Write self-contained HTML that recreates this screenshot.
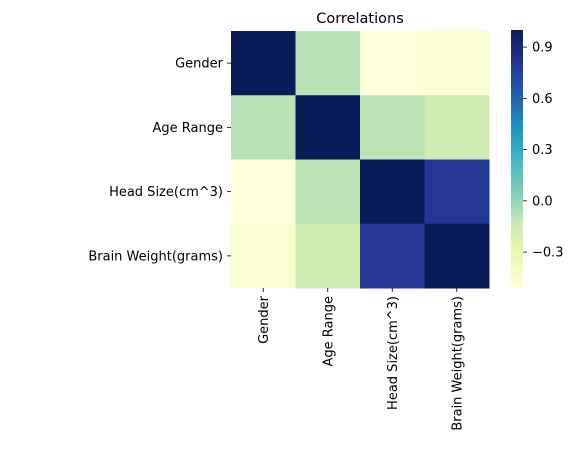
<!DOCTYPE html>
<html><head><meta charset="utf-8"><style>
body{margin:0;background:#fff;font-family:"Liberation Sans",sans-serif;}
svg text{font-family:"DejaVu Sans","Liberation Sans",sans-serif;fill:#000;}
</style></head><body>
<svg id="c" width="586" height="445"></svg>
<script>
const labels=["Gender","Age Range","Head Size(cm^3)","Brain Weight(grams)"];
const row0=[1,-0.09,-0.51,-0.47];
const row1=[-0.09,1,-0.1,-0.17];
const row2=[-0.51,-0.1,1,0.8];
const row3=[-0.47,-0.17,0.8,1];
const matrix=[row0,row1,row2,row3];
const cbTicks=[0.9,0.6,0.3,0.0,-0.3];
const cbTickLabels=["0.9","0.6","0.3","0.0","\u22120.3"];
const vmin=-0.51,vmax=1.0;
const NS="http://www.w3.org/2000/svg";
const svg=document.getElementById('c');
const X0=231,X1=489,Y0=31,Y1=288;
const FS=13;
const cw=(X1-X0)/labels.length,ch=(Y1-Y0)/labels.length;
const stops=["#ffffd9","#edf8b1","#c7e9b4","#7fcdbb","#41b6c4","#1d91c0","#225ea8","#253494","#081d58"];
function hex(h){return [1,3,5].map(i=>parseInt(h.substr(i,2),16));}
function cmap(v){let t=(v-vmin)/(vmax-vmin);t=Math.max(0,Math.min(1,t))*(stops.length-1);
const i=Math.min(Math.floor(t),stops.length-2),f=t-i;const a=hex(stops[i]),b=hex(stops[i+1]);
return "rgb("+a.map((x,k)=>Math.round(x+(b[k]-x)*f)).join(",")+")";}
function el(tag,attrs,txt){const e=document.createElementNS(NS,tag);for(const k in attrs)e.setAttribute(k,attrs[k]);if(txt!=null)e.textContent=txt;svg.appendChild(e);return e;}
const t=el('text',{x:360,y:23,'text-anchor':'middle','font-size':14.5},'Correlations');


matrix.forEach((row,r)=>row.forEach((v,c)=>{
 const e=el('rect',{x:X0+c*cw,y:Y0+r*ch,width:cw+0.5,height:ch+0.5,fill:cmap(v)});
 
 
}));
labels.forEach((l,i)=>{
 const yc=Y0+(i+0.5)*ch;
 el('line',{x1:X0-4,x2:X0,y1:yc,y2:yc,stroke:'#000','stroke-width':0.8});
 const a=el('text',{x:X0-8,y:yc+4.5,'text-anchor':'end','font-size':FS},l);
 
 
 const xc=X0+(i+0.5)*cw;
 el('line',{x1:xc,x2:xc,y1:Y1,y2:Y1+4,stroke:'#000','stroke-width':0.8});
 const b=el('text',{x:0,y:0,'text-anchor':'end','font-size':FS,transform:'translate('+(xc+4.5)+','+(Y1+8)+') rotate(-90)'},l);
 
 
});
const CX=511,CW=12,CY0=30,CY1=288;
const cby=v=>CY1-(v-vmin)/(vmax-vmin)*(CY1-CY0);
const defs=el('defs',{});
const g=document.createElementNS(NS,'linearGradient');g.setAttribute('id','gr');g.setAttribute('x1','0');g.setAttribute('y1','1');g.setAttribute('x2','0');g.setAttribute('y2','0');
stops.forEach((s,i)=>{const st=document.createElementNS(NS,'stop');st.setAttribute('offset',i/(stops.length-1));st.setAttribute('stop-color',s);g.appendChild(st);});
defs.appendChild(g);
const cb=el('rect',{x:CX,y:CY0,width:CW,height:CY1-CY0,fill:'url(#gr)'});


cbTicks.forEach((v,i)=>{
 const y=cby(v);
 el('line',{x1:CX+CW,x2:CX+CW+4,y1:y,y2:y,stroke:'#000','stroke-width':0.8});
 const e=el('text',{x:CX+CW+9,y:y+4.5,'font-size':FS},cbTickLabels[i]);
 
 
});
</script>
</body></html>
